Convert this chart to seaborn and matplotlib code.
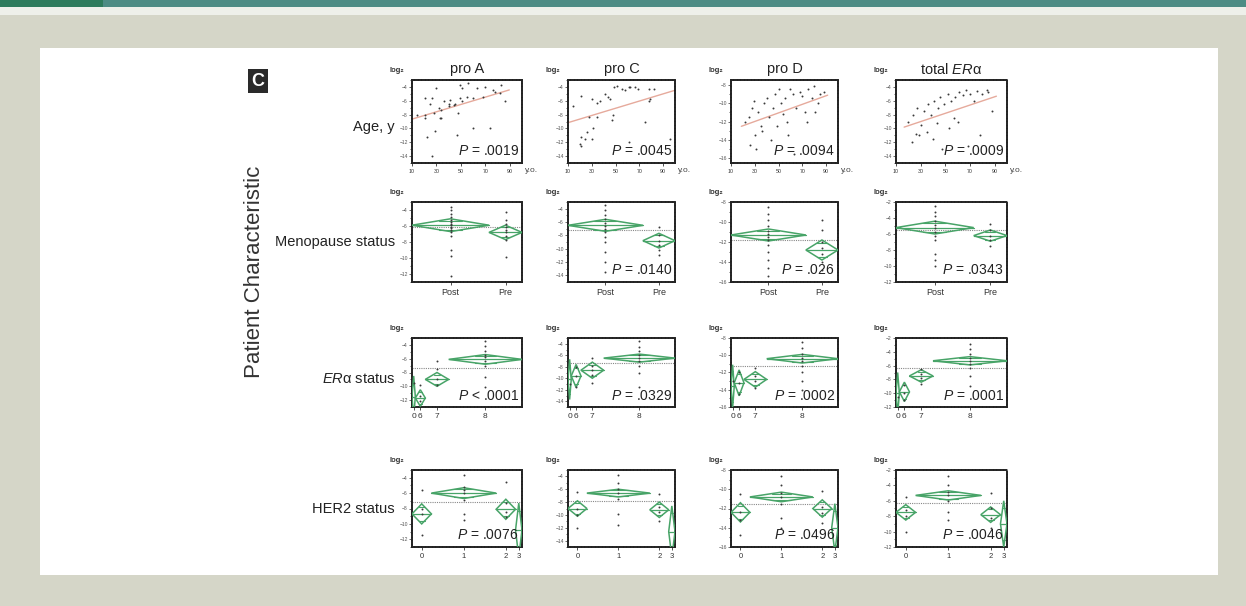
import numpy as np
import pandas as pd
import matplotlib
matplotlib.use("Agg")
import matplotlib.pyplot as plt
import seaborn as sns
from matplotlib.patches import Polygon, Rectangle
from matplotlib.ticker import MultipleLocator

# ---------------- data ----------------
GENES = ["pro A", "pro C", "pro D", "total ER\u03b1"]
ROW_LABELS = ["Age, y", "Menopause status", "ER\u03b1 status", "HER2 status"]

AGE_TICKS = [10, 30, 50, 70, 90]

AGE_A = [30, 49, 51, 56, 21, 26, 25, 32, 36, 40, 41, 45, 49, 51, 55, 68, 78, 82, 83, 86,
         21, 28, 33, 34, 48, 60, 74, 22, 29, 47, 26, 14, 21, 40, 44, 34, 60, 63, 70, 76]
VAL_A = [-4.2, -3.7, -4.2, -3.5, -5.6, -5.6, -6.4, -7.1, -6.1, -6.4, -5.9, -6.4, -5.6, -6.1,
         -5.4, -5.4, -4.7, -4.9, -3.7, -6.1, -8.0, -7.8, -8.5, -8.5, -7.8, -10.0, -10.0, -11.2,
         -10.4, -10.9, -14.0, -8.0, -8.5, -6.8, -6.6, -7.3, -5.6, -4.2, -4.0, -4.4]
AGE_C = [14, 21, 30, 34, 37, 41, 44, 45, 49, 51, 55, 61, 66, 69, 78, 82, 78, 79, 28, 34,
         47, 48, 31, 26, 21, 24, 30, 20, 21, 75, 61, 96, 62, 58]
VAL_C = [-6.8, -5.3, -5.8, -6.3, -6.0, -5.0, -5.5, -5.8, -4.0, -3.8, -4.3, -4.0, -4.0, -4.3,
         -4.3, -4.3, -6.0, -5.8, -8.3, -8.3, -8.8, -8.0, -10.0, -10.5, -11.3, -11.5, -11.5,
         -12.3, -12.5, -9.0, -12.0, -11.5, -4.0, -4.5]
AGE_D = [22, 25, 28, 30, 33, 35, 38, 40, 42, 45, 47, 50, 52, 55, 57, 60, 62, 65, 68, 70,
         72, 75, 78, 80, 83, 85, 88, 26, 31, 36, 44, 49, 58, 63, 74, 81, 29, 54]
VAL_D = [-12.0, -11.5, -10.5, -13.5, -11.0, -12.5, -10.0, -9.5, -11.5, -10.5, -9.0, -8.5,
         -10.0, -9.5, -12.0, -8.5, -9.0, -10.5, -8.8, -9.2, -11.0, -8.5, -9.5, -8.2, -10.0,
         -9.0, -8.8, -14.5, -15.0, -13.0, -14.0, -12.5, -13.5, -15.5, -12.0, -11.0, -9.8, -11.2]
AGE_T = [20, 24, 27, 30, 33, 36, 38, 41, 44, 46, 49, 52, 55, 58, 61, 64, 67, 70, 73, 76,
         80, 84, 88, 23, 29, 35, 40, 47, 53, 60, 68, 78, 26, 43, 57, 85]
VAL_T = [-9.0, -8.0, -7.0, -9.5, -7.5, -6.5, -8.0, -6.0, -7.0, -5.5, -6.5, -5.0, -6.0, -5.5,
         -4.8, -5.2, -4.5, -5.0, -6.0, -4.6, -5.0, -4.4, -7.5, -12.0, -11.0, -10.5, -11.5,
         -13.0, -10.0, -9.0, -12.5, -11.0, -10.8, -9.2, -8.5, -4.8]
AGE_X = [AGE_A, AGE_C, AGE_D, AGE_T]
AGE_Y = [VAL_A, VAL_C, VAL_D, VAL_T]
AGE_P = ["= .0019", "= .0045", "= .0094", "= .0009"]

YLIMS = [(-15, -3), (-15, -3), (-16.5, -7.5), (-15, -3)]
CAT_YLIMS = [(-13, -3), (-15, -3), (-16, -8), (-12, -2)]

MENO_GROUPS = ["Post", "Pre"]
MENO_N = [28, 12]
MENO_MEAN = [[-5.9, -6.8], [-6.5, -8.8], [-11.3, -12.8], [-5.2, -6.2]]
MENO_CI = [[0.8, 0.9], [0.9, 1.1], [0.6, 1.0], [0.8, 0.7]]
MENO_PTS = [
    [[-3.6, -4.0, -4.5, -4.9, -5.3, -5.5, -5.7, -5.9, -6.1, -6.3, -6.5, -6.7, -7.2, -9.0, -9.7, -12.2],
     [-4.3, -5.3, -5.7, -6.1, -6.5, -6.8, -7.2, -7.8, -9.9]],
    [[-3.5, -4.2, -5.0, -5.6, -6.2, -6.6, -7.0, -7.5, -8.2, -9.0, -10.5, -12.0, -13.5],
     [-6.8, -8.0, -8.8, -9.5, -10.2, -11.0]],
    [[-8.5, -9.2, -9.8, -10.4, -10.9, -11.2, -11.5, -11.8, -12.3, -13.0, -13.8, -14.6, -15.4],
     [-9.8, -10.8, -12.0, -12.6, -13.2, -14.0, -14.8]],
    [[-2.5, -3.2, -3.8, -4.4, -4.9, -5.3, -5.7, -6.2, -6.8, -8.5, -9.2, -10.0],
     [-4.8, -5.5, -6.2, -6.8, -7.5]],
]
MENO_P = [None, "= .0140", "= .026", "= .0343"]

ER_GROUPS = ["0", "6", "7", "8"]
ER_N = [1, 3, 7, 22]
ER_MEAN = [[-11.5, -11.7, -9.0, -6.1], [-10.2, -9.6, -8.6, -6.5],
           [-13.6, -13.2, -12.8, -10.4], [-10.0, -9.8, -7.5, -5.3]]
ER_CI = [[3.0, 1.2, 1.0, 0.7], [3.5, 2.0, 1.4, 0.7], [2.5, 1.5, 0.9, 0.5], [3.0, 1.4, 0.9, 0.6]]
ER_PTS = [
    [[-9.5], [-9.8, -11.4, -12.1], [-6.3, -7.5, -8.9, -9.8],
     [-3.5, -4.2, -4.9, -5.4, -5.8, -6.3, -7.0, -8.7, -10.1]],
    [[-11.0], [-8.0, -9.6, -11.5], [-6.5, -7.8, -8.6, -9.5, -10.8],
     [-3.5, -4.5, -5.3, -6.0, -6.5, -7.0, -7.8, -9.0, -11.5]],
    [[-13.0], [-12.0, -13.2, -14.5], [-11.5, -12.4, -13.0, -13.8],
     [-8.5, -9.2, -9.8, -10.3, -10.7, -11.2, -12.0, -13.0, -14.0]],
    [[-10.5], [-8.8, -10.0, -11.0], [-6.5, -7.2, -7.8, -8.6],
     [-2.8, -3.6, -4.3, -4.9, -5.4, -5.8, -6.4, -7.5, -9.0]],
]
ER_P = ["< .0001", "= .0329", "= .0002", "= .0001"]

HER_GROUPS = ["0", "1", "2", "3"]
HER_N = [6, 20, 6, 2]
HER_MEAN = [[-8.7, -6.0, -8.1, -10.8], [-9.0, -6.6, -9.2, -12.6],
            [-12.4, -10.8, -12.0, -14.0], [-7.5, -5.3, -7.8, -9.0]]
HER_CI = [[1.3, 0.7, 1.3, 3.5], [1.2, 0.6, 1.2, 4.0], [1.0, 0.5, 0.9, 2.5], [1.0, 0.6, 1.0, 3.0]]
HER_PTS = [
    [[-5.6, -8.0, -8.7, -11.5], [-3.7, -5.2, -5.6, -6.0, -6.9, -8.7, -9.5], [-4.5, -7.3, -8.4, -9.1], []],
    [[-6.5, -9.0, -10.0, -12.0], [-3.8, -5.0, -6.0, -6.6, -7.5, -9.8, -11.5], [-6.8, -8.8, -9.6, -11.0], []],
    [[-10.5, -12.4, -13.2, -14.8], [-8.6, -9.6, -10.4, -10.8, -11.5, -13.0, -14.0], [-10.2, -11.8, -12.5, -13.5], []],
    [[-5.5, -7.2, -8.0, -10.0], [-2.8, -4.0, -4.8, -5.3, -6.0, -7.5, -8.5], [-5.0, -7.0, -8.2, -9.5], []],
]
HER_P = ["= .0076", None, "= .0496", "= .0046"]

# ---------------- style ----------------
sns.set_style("white")
plt.rcParams["font.family"] = ["Liberation Sans", "DejaVu Sans"]
plt.rcParams["mathtext.fontset"] = "custom"
plt.rcParams["mathtext.rm"] = "Liberation Sans"
plt.rcParams["mathtext.it"] = "Liberation Sans:italic"

W, H = 1246, 606
fig = plt.figure(figsize=(W / 100, H / 100), dpi=100)
fig.patch.set_facecolor("#d5d6c8")


def frect(x0, y0, x1, y1, color, z=0):
    fig.add_artist(Rectangle((x0 / W, 1 - y1 / H), (x1 - x0) / W, (y1 - y0) / H,
                             transform=fig.transFigure, facecolor=color, edgecolor="none", zorder=z))


frect(0, 0, W, 7, "#4d8c84")
frect(0, 0, 103, 7, "#2d7b5c")
frect(0, 7, W, 15, "#eef0ea")
frect(40, 48, 1218, 575, "#ffffff")

COLS = [(412, 522), (568, 675), (731, 838), (896, 1007)]
ROWS = [(80, 163), (202, 282), (338, 407), (470, 547)]
GREEN = "#48a468"
DOT = "#3a3a3a"


def make_ax(r, c):
    x0, x1 = COLS[c]
    y0, y1 = ROWS[r]
    ax = fig.add_axes([x0 / W, 1 - y1 / H, (x1 - x0) / W, (y1 - y0) / H])
    ax.set_facecolor("none")
    for s in ax.spines.values():
        s.set_linestyle((0, (1, 0.8)))
        s.set_linewidth(1.4)
        s.set_color("#222222")
    ax.tick_params(axis="y", length=2, width=0.6, labelsize=3.6, pad=1, left=True, colors="#555555")
    ax.tick_params(axis="x", length=2, width=0.6, pad=2, bottom=True, colors="#333333")
    ax.set_xlabel("")
    ax.set_ylabel("")
    fig.text((x0 - 15) / W, 1 - (y0 - 9) / H, "log\u2082", fontsize=5.5, fontweight="bold",
             ha="center", va="center", color="#333333")
    return ax


def ptext(ax, p):
    if p:
        ax.text(0.97, 0.06, r"$\mathit{P}$ " + p, transform=ax.transAxes, ha="right",
                va="bottom", fontsize=10, color="#222222", zorder=5)


def cat_panel(ax, n, means, cis, pts, ylim, labels, lab_size):
    n = np.asarray(n, float)
    left = np.concatenate([[0.0], np.cumsum(n)[:-1]])
    right = left + n
    mid = (left + right) / 2
    means = np.asarray(means, float)
    grand = float(np.sum(means * n) / n.sum())
    ax.axhline(grand, color="#888888", lw=0.8, ls=(0, (1, 1)), zorder=1)
    for i in range(len(n)):
        m, ci, l, r, c = means[i], cis[i], left[i], right[i], mid[i]
        ax.add_patch(Polygon([(l, m), (c, m + ci), (r, m), (c, m - ci)], closed=True,
                             fill=False, edgecolor=GREEN, lw=1.1, zorder=3))
        ax.plot([l, r], [m, m], color=GREEN, lw=0.9, zorder=3)
        h = ci / np.sqrt(2)
        hw = (r - l) / 2 * (1 - h / ci)
        for s in (1, -1):
            ax.plot([c - hw, c + hw], [m + s * h, m + s * h], color=GREEN, lw=0.8, zorder=3)
    xs = np.concatenate([np.full(len(p), mid[i]) for i, p in enumerate(pts)])
    ys = np.concatenate([np.asarray(p, float) for p in pts])
    df = pd.DataFrame({"x": xs, "y": ys})
    sns.scatterplot(data=df, x="x", y="y", ax=ax, s=2, color=DOT, linewidth=0, zorder=4)
    ax.set_xlim(0, n.sum())
    ax.set_ylim(*ylim)
    ax.set_xticks(mid)
    ax.set_xticklabels(labels, fontsize=lab_size)
    ax.yaxis.set_major_locator(MultipleLocator(2))
    ax.yaxis.set_minor_locator(MultipleLocator(1))
    ax.tick_params(axis="y", which="minor", length=1.5, width=0.5, left=True)
    ax.set_xlabel("")
    ax.set_ylabel("")


for c in range(4):
    # Age row
    ax = make_ax(0, c)
    df = pd.DataFrame({"age": AGE_X[c], "val": AGE_Y[c]})
    sns.scatterplot(data=df, x="age", y="val", ax=ax, s=2, color=DOT, linewidth=0, zorder=4)
    sns.regplot(data=df, x="age", y="val", ax=ax, scatter=False, ci=None, truncate=False,
                line_kws={"color": "#e6aa9c", "lw": 1.0})
    ax.set_xlim(10, 100)
    ax.set_ylim(*YLIMS[c])
    ax.set_xticks(AGE_TICKS)
    ax.set_xticklabels([str(t) for t in AGE_TICKS], fontsize=3.8)
    ax.yaxis.set_major_locator(MultipleLocator(2))
    ax.yaxis.set_minor_locator(MultipleLocator(1))
    ax.tick_params(axis="y", which="minor", length=1.5, width=0.5, left=True)
    ax.set_xlabel("")
    ax.set_ylabel("")
    ptext(ax, AGE_P[c])
    x0, x1 = COLS[c]
    y0, y1 = ROWS[0]
    fig.text((x1 + 3) / W, 1 - (y1 + 8) / H, "y.o.", fontsize=6, color="#444444",
             ha="left", va="center")
    title = GENES[c] if c < 3 else "total $\\mathit{ER}$\u03b1"
    fig.text((x0 + x1) / 2 / W, 1 - 69 / H, title, fontsize=10.5, ha="center", va="center",
             color="#222222")

    # Menopause row
    ax = make_ax(1, c)
    cat_panel(ax, MENO_N, MENO_MEAN[c], MENO_CI[c], MENO_PTS[c], CAT_YLIMS[c], MENO_GROUPS, 6.5)
    ptext(ax, MENO_P[c])

    # ER row
    ax = make_ax(2, c)
    cat_panel(ax, ER_N, ER_MEAN[c], ER_CI[c], ER_PTS[c], CAT_YLIMS[c], ER_GROUPS, 6)
    ptext(ax, ER_P[c])

    # HER2 row
    ax = make_ax(3, c)
    cat_panel(ax, HER_N, HER_MEAN[c], HER_CI[c], HER_PTS[c], CAT_YLIMS[c], HER_GROUPS, 5.5)
    ptext(ax, HER_P[c])

# row labels
ROW_Y = [127, 242, 379, 509]
for i, lab in enumerate(ROW_LABELS):
    txt = lab if i != 2 else "$\\mathit{ER}$\u03b1 status"
    fig.text(395 / W, 1 - ROW_Y[i] / H, txt, fontsize=10.5, ha="right", va="center",
             color="#222222")

fig.text(255 / W, 1 - 272 / H, "Patient Characteristic", fontsize=16, rotation=90,
         ha="center", va="center", color="#333333")
fig.text(258 / W, 1 - 81 / H, "C", fontsize=13, fontweight="bold", color="white",
         ha="center", va="center",
         bbox=dict(boxstyle="square,pad=0.18", facecolor="#2a2a2a", edgecolor="none"))

fig.savefig("out.png", dpi=100, facecolor=fig.get_facecolor())
